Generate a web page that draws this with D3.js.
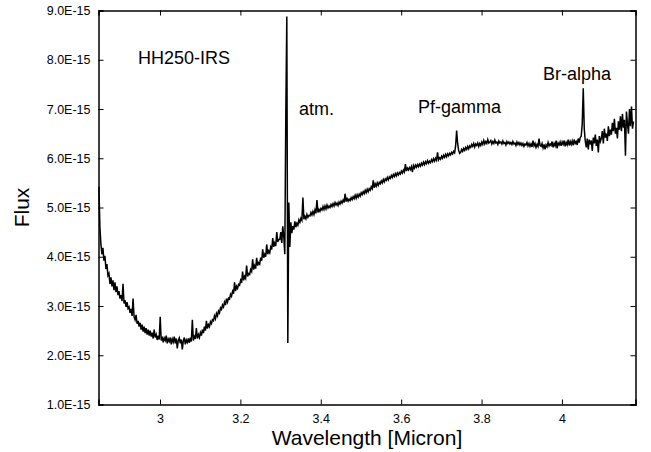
<!DOCTYPE html>
<html>
<head>
<meta charset="utf-8">
<script src="https://cdn.jsdelivr.net/npm/d3@7"></script>
<style>
  body { margin: 0; background: #fff; }
  text { font-family: "Liberation Sans", Arial, sans-serif; fill: #000; }
</style>
</head>
<body>
<div id="chart"></div>
<script>
// wavelength grid (micron): start + i * step
var waveStart = 2.848, waveStep = 0.0025;

// flux in units of 1E-15 (10 samples per 0.025 micron)
var flux = [
  5.42, 4.60, 4.25, 4.05, 4.18, 3.92, 4.02, 3.75, 3.85, 3.62,
  3.66, 3.45, 3.58, 3.40, 3.52, 3.32, 3.48, 3.28, 3.40, 3.22,
  3.30, 3.15, 3.22, 3.10, 3.45, 3.05, 3.12, 2.98, 3.08, 2.95,
  2.98, 2.86, 2.94, 2.80, 3.15, 2.78, 2.72, 2.82, 2.64, 2.70,
  2.58, 2.66, 2.52, 2.62, 2.48, 2.58, 2.45, 2.55, 2.42, 2.52,
  2.40, 2.50, 2.38, 2.46, 2.34, 2.52, 2.36, 2.42, 2.31, 2.40,
  2.32, 2.78, 2.30, 2.38, 2.26, 2.35, 2.30, 2.40, 2.24, 2.33,
  2.28, 2.36, 2.22, 2.33, 2.27, 2.38, 2.24, 2.34, 2.14, 2.30,
  2.35, 2.24, 2.32, 2.12, 2.29, 2.36, 2.22, 2.31, 2.26, 2.34,
  2.25, 2.36, 2.28, 2.72, 2.30, 2.38, 2.33, 2.55, 2.34, 2.42,
  2.36, 2.46, 2.40, 2.52, 2.45, 2.58, 2.50, 2.70, 2.54, 2.62,
  2.58, 2.68, 2.64, 2.72, 2.70, 2.80, 2.74, 2.85, 2.80, 2.90,
  2.86, 2.96, 2.93, 3.02, 2.98, 3.08, 3.02, 3.15, 3.08, 3.16,
  3.14, 3.24, 3.20, 3.30, 3.25, 3.48, 3.30, 3.40, 3.36, 3.44,
  3.42, 3.52, 3.47, 3.70, 3.52, 3.60, 3.56, 3.82, 3.60, 3.66,
  3.64, 3.74, 3.70, 3.95, 3.74, 3.82, 3.76, 3.98, 3.82, 3.88,
  3.85, 3.98, 3.92, 4.15, 3.98, 4.05, 4.00, 4.25, 4.05, 4.12,
  4.08, 4.20, 4.15, 4.38, 4.20, 4.28, 4.22, 4.50, 4.30, 4.35,
  4.35, 4.50, 4.28, 4.62, 4.40, 4.05, 6.90, 8.88, 2.25, 5.10,
  4.20, 4.70, 4.48, 4.62, 4.55, 4.72, 4.60, 4.68, 4.64, 4.75,
  4.70, 4.78, 4.74, 5.20, 4.76, 4.82, 4.77, 4.86, 4.80, 4.84,
  4.83, 4.90, 4.85, 4.92, 4.86, 4.95, 4.88, 5.15, 4.90, 4.96,
  4.92, 4.98, 4.95, 5.02, 4.96, 5.03, 4.97, 5.05, 4.99, 5.03,
  5.00, 5.06, 5.02, 5.08, 5.03, 5.10, 5.05, 5.09, 5.04, 5.11,
  5.07, 5.13, 5.09, 5.15, 5.10, 5.28, 5.12, 5.18, 5.13, 5.17,
  5.14, 5.20, 5.16, 5.22, 5.18, 5.25, 5.19, 5.26, 5.21, 5.27,
  5.23, 5.30, 5.26, 5.32, 5.28, 5.35, 5.30, 5.37, 5.32, 5.38,
  5.35, 5.42, 5.38, 5.55, 5.40, 5.48, 5.43, 5.50, 5.45, 5.51,
  5.48, 5.54, 5.50, 5.57, 5.52, 5.58, 5.55, 5.61, 5.56, 5.62,
  5.59, 5.65, 5.61, 5.67, 5.63, 5.69, 5.64, 5.70, 5.66, 5.71,
  5.68, 5.74, 5.70, 5.76, 5.72, 5.88, 5.74, 5.80, 5.76, 5.81,
  5.77, 5.83, 5.72, 5.85, 5.80, 5.86, 5.82, 5.87, 5.83, 5.88,
  5.84, 5.90, 5.86, 5.92, 5.87, 5.93, 5.89, 5.95, 5.90, 5.94,
  5.91, 5.97, 5.93, 5.99, 5.94, 6.00, 5.96, 6.12, 5.97, 6.01,
  5.98, 6.04, 6.00, 6.06, 6.02, 6.08, 6.03, 6.09, 6.05, 6.10,
  6.07, 6.12, 6.09, 6.14, 6.11, 6.25, 6.56, 6.30, 6.16, 6.10,
  6.12, 6.18, 6.14, 6.20, 6.16, 6.22, 6.18, 6.24, 6.19, 6.25,
  6.22, 6.28, 6.24, 6.30, 6.23, 6.29, 6.26, 6.31, 6.24, 6.30,
  6.26, 6.33, 6.28, 6.36, 6.29, 6.34, 6.30, 6.38, 6.31, 6.33,
  6.36, 6.29, 6.34, 6.30, 6.37, 6.31, 6.33, 6.28, 6.35, 6.31,
  6.33, 6.29, 6.35, 6.30, 6.32, 6.27, 6.34, 6.30, 6.33, 6.29,
  6.32, 6.28, 6.34, 6.29, 6.31, 6.26, 6.33, 6.28, 6.32, 6.27,
  6.31, 6.26, 6.30, 6.24, 6.29, 6.27, 6.32, 6.25, 6.30, 6.24,
  6.29, 6.23, 6.36, 6.25, 6.30, 6.22, 6.28, 6.24, 6.40, 6.26,
  6.24, 6.30, 6.21, 6.28, 6.18, 6.27, 6.23, 6.32, 6.25, 6.29,
  6.26, 6.34, 6.22, 6.30, 6.25, 6.36, 6.20, 6.31, 6.27, 6.33,
  6.25, 6.33, 6.28, 6.36, 6.24, 6.32, 6.27, 6.38, 6.26, 6.34,
  6.28, 6.35, 6.26, 6.38, 6.30, 6.34, 6.27, 6.40, 6.32, 6.42,
  6.45, 6.70, 7.42, 6.60, 6.35, 6.22, 6.40, 6.18, 6.38, 6.28,
  6.36, 6.15, 6.42, 6.30, 6.48, 6.25, 6.38, 6.12, 6.45, 6.34,
  6.40, 6.55, 6.30, 6.60, 6.42, 6.50, 6.35, 6.65, 6.45, 6.58,
  6.48, 6.72, 6.55, 6.80, 6.50, 6.62, 6.40, 6.75, 6.58, 6.85,
  6.55, 6.90, 6.62, 6.78, 6.05, 6.95, 6.70, 6.50, 7.00, 6.65,
  7.05, 6.60, 6.75
];

var xTicks = [3, 3.2, 3.4, 3.6, 3.8, 4];
var yTicks = [1, 2, 3, 4, 5, 6, 7, 8, 9];

var labels = [
  {text: "HH250-IRS", w: 2.945, f: 7.91},
  {text: "atm.", w: 3.346, f: 6.88},
  {text: "Pf-gamma", w: 3.642, f: 6.92},
  {text: "Br-alpha", w: 3.953, f: 7.59}
];

// set the dimensions and margins of the graph
var margin = {top: 10.5, right: 15.5, bottom: 47.5, left: 98.5},
width = 651 - margin.left - margin.right,
height = 452 - margin.top - margin.bottom;

var svg = d3.select("#chart")
.append("svg")
.attr("width", 651)
.attr("height", 452)
.append("g")
.attr("transform", "translate(" + margin.left + "," + margin.top + ")");

var x = d3.scaleLinear()
.domain([2.847, 4.183])
.range([0, width]);

var y = d3.scaleLinear()
.domain([1, 9])
.range([height, 0]);

var data = flux.map(function(f, i) { return {w: waveStart + i * waveStep, f: f}; });

// the spectrum
svg.append("path")
.datum(data)
.attr("fill", "none")
.attr("stroke", "#000")
.attr("stroke-width", 1.5)
.attr("d", d3.line().x(d => x(d.w)).y(d => y(d.f)));

// axes with inward ticks on all four sides
var fmtY = d => d.toFixed(1) + "E-15";

svg.append("g")
.attr("transform", "translate(0," + height + ")")
.call(d3.axisBottom(x).tickValues(xTicks).tickSize(-5).tickPadding(10).tickFormat(d3.format("")));

svg.append("g")
.call(d3.axisTop(x).tickValues(xTicks).tickSize(-5).tickFormat(""));

svg.append("g")
.call(d3.axisLeft(y).tickValues(yTicks).tickSize(-5).tickPadding(8).tickFormat(fmtY));

svg.append("g")
.attr("transform", "translate(" + width + ",0)")
.call(d3.axisRight(y).tickValues(yTicks).tickSize(-5).tickFormat(""));

svg.selectAll(".domain").attr("stroke", "#000").attr("stroke-width", 1.5);
svg.selectAll(".tick line").attr("stroke", "#000").attr("stroke-width", 1);
svg.selectAll(".tick text")
.attr("font-size", null)
.style("font-size", "12.5px")
.style("font-family", "Liberation Sans, Arial, sans-serif");

// line labels
svg.selectAll(".note")
.data(labels)
.join("text")
.attr("class", "note")
.attr("x", d => x(d.w))
.attr("y", d => y(d.f))
.style("font-size", "18px")
.text(d => d.text);

// axis titles
svg.append("text")
.attr("x", width / 2)
.attr("y", height + 40)
.attr("text-anchor", "middle")
.style("font-size", "21px")
.text("Wavelength [Micron]");

svg.append("text")
.attr("transform", "translate(" + (-70) + "," + (height / 2) + ") rotate(-90)")
.attr("text-anchor", "middle")
.style("font-size", "21px")
.text("Flux");
</script>
</body>
</html>
